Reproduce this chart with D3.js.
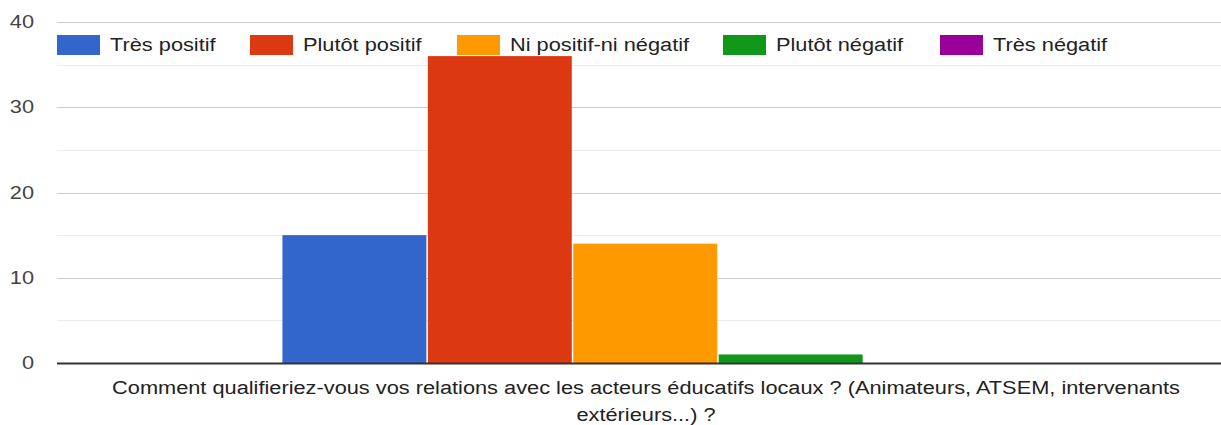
<!DOCTYPE html>
<html><head><meta charset="utf-8">
<script src="https://cdn.jsdelivr.net/npm/d3@7"></script>
<style>body{margin:0;background:#fff}svg{display:block;font-family:Arial,"Liberation Sans",sans-serif}</style>
</head><body>
<svg id="c" width="1221" height="425"></svg>
<script>
const categories = ["Comment qualifieriez-vous vos relations avec les acteurs éducatifs locaux ? (Animateurs, ATSEM, intervenants extérieurs...) ?"];
const categoryLines = ["Comment qualifieriez-vous vos relations avec les acteurs éducatifs locaux ? (Animateurs, ATSEM, intervenants", "extérieurs...) ?"];
const seriesNames = ["Très positif", "Plutôt positif", "Ni positif-ni négatif", "Plutôt négatif", "Très négatif"];
const seriesValues = [15, 36, 14, 1, 0];
const seriesColors = ["#3366cc", "#dc3912", "#ff9900", "#109618", "#990099"];
const majorTicks = [0, 10, 20, 30, 40];
const minorTicks = [5, 15, 25, 35];

const SX = 1.21; // horizontal stretch of text seen in the reference
const svg = d3.select("#c");
const L = 57, R = 1235, T = 22, B = 363;
const y = d3.scaleLinear().domain([0, 40]).range([B, T]);
const x0 = d3.scaleBand().domain(categories).range([L, R]).paddingInner(0).paddingOuter(0.31);
const x1 = d3.scaleBand().domain(seriesNames).range([0, x0.bandwidth()]);

// minor gridlines
svg.append("g").selectAll("line").data(minorTicks).join("line")
  .attr("x1", L).attr("x2", 1221).attr("y1", d => Math.round(y(d)) + 0.5).attr("y2", d => Math.round(y(d)) + 0.5)
  .attr("stroke", "#ebebeb").attr("stroke-width", 1);
// major gridlines
svg.append("g").selectAll("line").data(majorTicks.filter(d => d > 0)).join("line")
  .attr("x1", L).attr("x2", 1221).attr("y1", d => Math.round(y(d)) + 0.5).attr("y2", d => Math.round(y(d)) + 0.5)
  .attr("stroke", "#cccccc").attr("stroke-width", 1);

// y tick labels
svg.append("g").selectAll("text").data(majorTicks).join("text")
  .attr("transform", d => `translate(34,${y(d) + 6}) scale(${SX},1)`)
  .attr("text-anchor", "end").attr("font-size", 18).attr("fill", "#444")
  .text(d => d);

// bars
const g = svg.append("g").attr("transform", `translate(${x0(categories[0])},0)`);
g.selectAll("rect").data(seriesNames.map((n, i) => ({n, v: seriesValues[i], c: seriesColors[i]}))).join("rect")
  .attr("x", d => x1(d.n)).attr("width", x1.bandwidth() - 1.5)
  .attr("y", d => y(d.v)).attr("height", d => y(0) - y(d.v))
  .attr("fill", d => d.c);

// baseline
svg.append("line").attr("x1", L).attr("x2", 1221).attr("y1", B + 0.5).attr("y2", B + 0.5)
  .attr("stroke", "#333").attr("stroke-width", 2);

// legend
const legX = [57, 250, 457, 723, 940];
const leg = svg.append("g");
seriesNames.forEach((n, i) => {
  leg.append("rect").attr("x", legX[i]).attr("y", 35).attr("width", 43).attr("height", 20)
    .attr("fill", seriesColors[i]);
  leg.append("text").attr("transform", `translate(${legX[i] + 53},51) scale(${SX},1)`)
    .attr("font-size", 18).attr("fill", "#222").text(n);
});

// category label
const cx = x0(categories[0]) + x0.bandwidth() / 2;
svg.append("g").selectAll("text").data(categoryLines).join("text")
  .attr("transform", (d, i) => `translate(${cx},${394 + i * 27}) scale(${SX},1)`)
  .attr("text-anchor", "middle").attr("font-size", 18).attr("fill", "#222")
  .text(d => d);
</script>
</body></html>
